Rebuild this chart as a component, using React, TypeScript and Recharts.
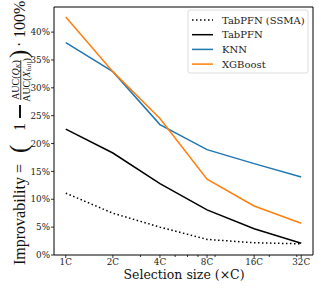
import { LineChart, Line, XAxis, YAxis, ReferenceArea } from 'recharts';

// selection sizes, in multiples of C
const sizes = [1, 2, 4, 8, 16, 32];
const minorTicks = [3, 5, 6, 7, 9, 20, 30];
const yTicks = [0, 5, 10, 15, 20, 25, 30, 35, 40];

// improvability in percent, one value per selection size
const tabpfnSsma = [11.1, 7.5, 5.0, 2.8, 2.2, 2.0];
const tabpfn = [22.6, 18.3, 12.8, 8.1, 4.7, 2.1];
const knn = [38.1, 32.9, 23.4, 18.9, 16.4, 14.0];
const xgboost = [42.7, 32.9, 24.5, 13.6, 8.8, 5.7];

const series = [
    { key: 'ssma', name: 'TabPFN (SSMA)', color: '#000000', dash: '1.5 2.5' },
    { key: 'tabpfn', name: 'TabPFN', color: '#000000', dash: undefined },
    { key: 'knn', name: 'KNN', color: '#1f77b4', dash: undefined },
    { key: 'xgb', name: 'XGBoost', color: '#ff7f0e', dash: undefined },
];

const data = sizes.map((s, i) => ({
    size: s,
    ssma: tabpfnSsma[i],
    tabpfn: tabpfn[i],
    knn: knn[i],
    xgb: xgboost[i],
}));

const X_MIN = Math.pow(2, -0.25);
const X_MAX = Math.pow(2, 5.25);
const Y_MAX = 44.5;
const FONT = "'DejaVu Serif', serif";
const MATH = "'Liberation Serif', 'Times New Roman', serif";

function XTick(props: any) {
    const { x, y, payload } = props;
    const major = sizes.includes(payload.value);
    const top = y - 4;
    return (
        <g>
            <line x1={x} x2={x} y1={top} y2={top + (major ? 3 : 2)} stroke="#000" strokeWidth={0.8} />
            {major && (
                <text x={x} y={y} dy="0.71em" textAnchor="middle" style={{ fontFamily: FONT, fontSize: 8.8 }} fill="#222">
                    {payload.value}C
                </text>
            )}
        </g>
    );
}

// rotated y title: Improvability = (1 - AUC(Q_K)/AUC(X_full)) · 100%
function YLabel() {
    return (
        <g transform="translate(25,265) rotate(-90)" style={{ fontFamily: MATH }} fill="#111">
            <text x={0} y={0} fontSize={16}>Improvability</text>
            <text x={92} y={0} fontSize={16}>=</text>
            <text x={112} y={2} fontSize={25}>(</text>
            <text x={134} y={0} fontSize={16}>1</text>
            <rect x={147} y={-6} width={13} height={2} />
            <text x={185} y={-6.5} fontSize={10} textAnchor="middle">
                AUC(<tspan fontStyle="italic">Q</tspan>
                <tspan fontSize={7} fontStyle="italic" dy={1.5}>K</tspan>
                <tspan dy={-1.5}>)</tspan>
            </text>
            <rect x={165} y={-4.6} width={40} height={0.8} />
            <text x={185} y={4.5} fontSize={10} textAnchor="middle">
                AUC(<tspan fontStyle="italic">X</tspan>
                <tspan fontSize={7} dy={1.5}>full</tspan>
                <tspan dy={-1.5}>)</tspan>
            </text>
            <text x={207} y={2} fontSize={25}>)</text>
            <text x={218} y={0} fontSize={16}>·</text>
            <text x={227} y={0} fontSize={16}>100%</text>
        </g>
    );
}

function LegendBox() {
    return (
        <g style={{ fontFamily: FONT, fontSize: 10 }} fill="#222">
            <rect x={188} y={10} width={120} height={63} rx={2} fill="#fff" fillOpacity={0.8} stroke="#d4d4d4" strokeWidth={0.8} />
            {series.map((s, i) => {
                const cy = 20 + i * 14.7;
                return (
                    <g key={s.key}>
                        <line x1={192} x2={213} y1={cy} y2={cy} stroke={s.color} strokeWidth={1.5} strokeDasharray={s.dash} />
                        <text x={222} y={cy} dy="0.35em">{s.name}</text>
                    </g>
                );
            })}
        </g>
    );
}

export default function App() {
    return (
        <div style={{ position: 'absolute', left: 0, top: 0, width: 321, height: 289, background: '#fff' }}>
            <LineChart width={321} height={289} data={data} margin={{ top: 7, right: 8, bottom: 0, left: 0 }}>
                <XAxis
                    dataKey="size"
                    type="number"
                    scale="log"
                    domain={[X_MIN, X_MAX]}
                    allowDataOverflow
                    ticks={[...sizes, ...minorTicks]}
                    interval={0}
                    tick={<XTick />}
                    tickLine={false}
                    tickSize={3}
                    tickMargin={1}
                    axisLine={false}
                    height={34}
                />
                <YAxis
                    type="number"
                    domain={[0, Y_MAX]}
                    allowDataOverflow
                    ticks={yTicks}
                    interval={0}
                    tickFormatter={(v) => `${v}%`}
                    tick={{ style: { fontFamily: FONT, fontSize: 8.8 }, fill: '#222' }}
                    tickSize={3}
                    tickMargin={1}
                    tickLine={{ stroke: '#000', strokeWidth: 0.8 }}
                    axisLine={false}
                    width={54}
                />
                {series.map((s) => (
                    <Line
                        key={s.key}
                        dataKey={s.key}
                        stroke={s.color}
                        strokeWidth={1.5}
                        strokeDasharray={s.dash}
                        dot={false}
                        isAnimationActive={false}
                    />
                ))}
                <ReferenceArea x1={X_MIN} x2={X_MAX} y1={0} y2={Y_MAX} fill="none" stroke="#000" strokeWidth={1} ifOverflow="visible" />
            </LineChart>
            <svg width={321} height={289} style={{ position: 'absolute', left: 0, top: 0, pointerEvents: 'none' }}>
                <YLabel />
                <LegendBox />
                <text x={184} y={279} textAnchor="middle" style={{ fontFamily: FONT, fontSize: 12.5 }} fill="#111">
                    Selection size (×C)
                </text>
            </svg>
        </div>
    );
}
